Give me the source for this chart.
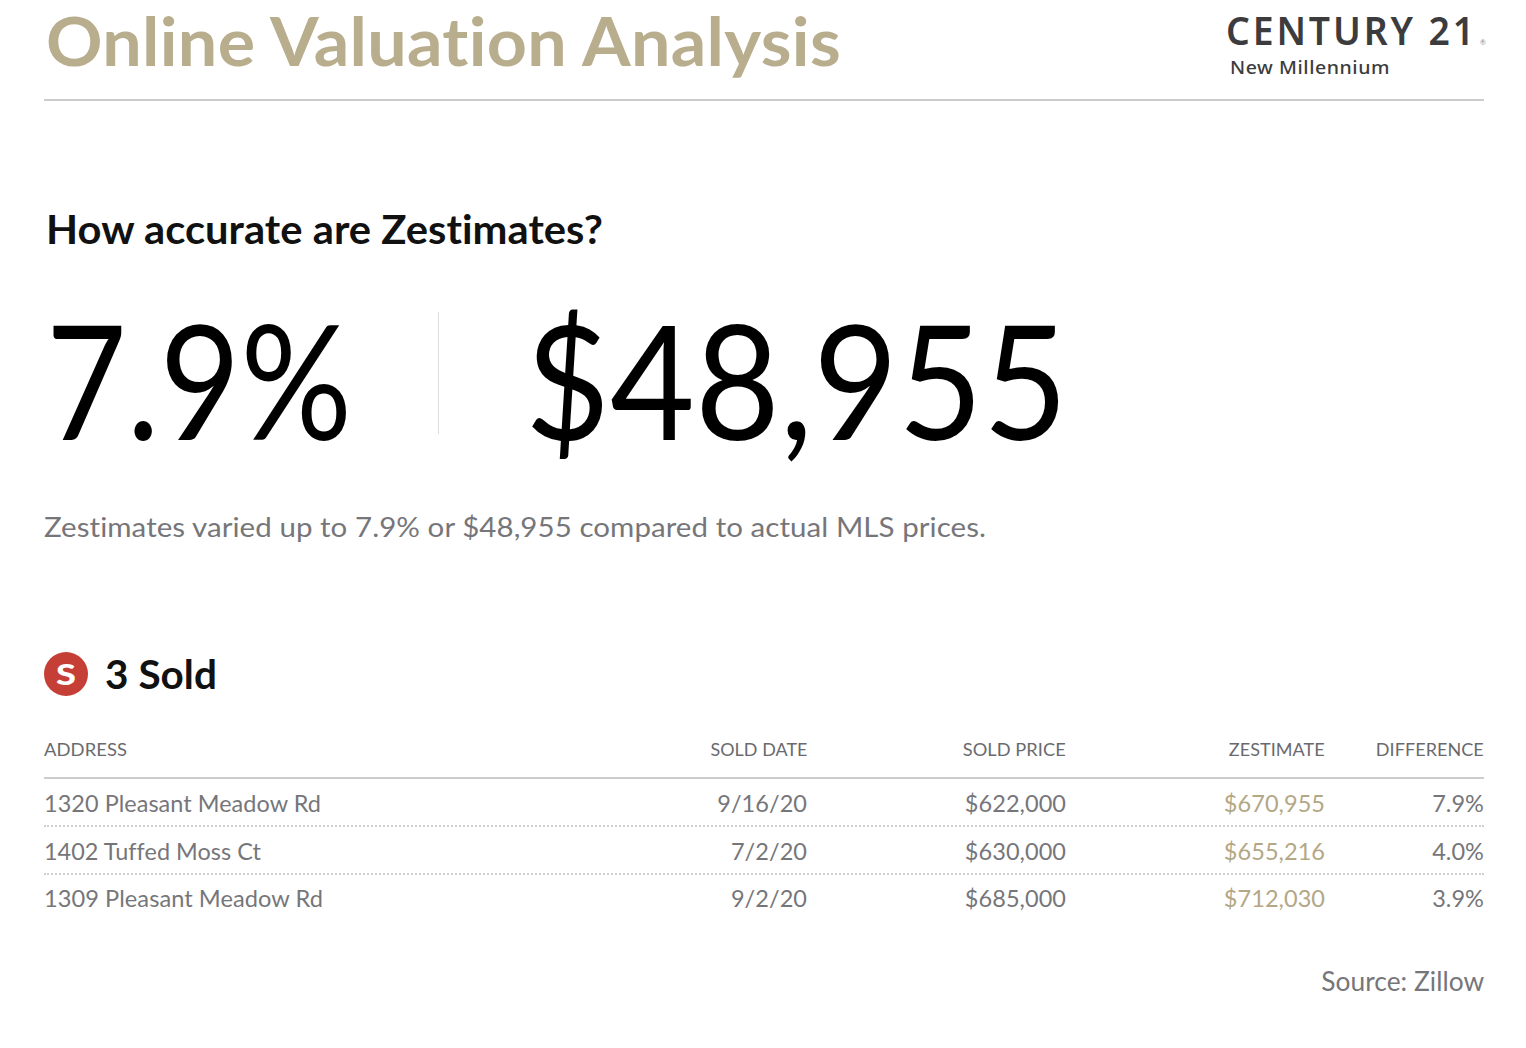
<!DOCTYPE html>
<html>
<head>
<meta charset="utf-8">
<script src="https://cdn.jsdelivr.net/npm/chart.js@4"></script>
<style>
  html, body { margin: 0; padding: 0; background: #ffffff; }
  body { width: 1526px; height: 1048px; position: relative; overflow: hidden; font-family: Lato, "Noto Sans", sans-serif; }
  .t { position: absolute; white-space: nowrap; line-height: 1; font-variant-ligatures: none; font-feature-settings: "liga" 0, "dlig" 0, "clig" 0, "calt" 0; }
  .rule { position: absolute; }
</style>
</head>
<body>
<script>
// ---------- data ----------
const pageTitle = "Online Valuation Analysis";
const brandName = "CENTURY 21";
const brandOffice = "New Millennium";
const question = "How accurate are Zestimates?";
const maxPercent = "7.9%";
const maxDollar = "$48,955";
const summary = "Zestimates varied up to 7.9% or $48,955 compared to actual MLS prices.";
const soldLabel = "3 Sold";
const columns = ["ADDRESS", "SOLD DATE", "SOLD PRICE", "ZESTIMATE", "DIFFERENCE"];
const addresses = ["1320 Pleasant Meadow Rd", "1402 Tuffed Moss Ct", "1309 Pleasant Meadow Rd"];
const soldDates = ["9/16/20", "7/2/20", "9/2/20"];
const soldPrices = [622000, 630000, 685000];
const zestimates = [670955, 655216, 712030];
const differences = [7.9, 4.0, 3.9];
const sourceNote = "Source: Zillow";

// ---------- helpers ----------
const money = v => "$" + v.toLocaleString("en-US");
function text(str, opt) {
  const d = document.createElement("div");
  d.className = "t";
  d.textContent = str;
  d.style.fontFamily = opt.family || "Lato, 'Noto Sans', sans-serif";
  d.style.fontSize = opt.size + "px";
  d.style.fontWeight = opt.weight || 400;
  d.style.color = opt.color || "#000";
  if (opt.lh) d.style.lineHeight = opt.lh;
  d.style.letterSpacing = (opt.spacing || 0.05) + "px";
  d.style.top = "0px";
  d.style.left = "0px";
  const mark = document.createElement("span");
  mark.style.cssText = "display:inline-block;width:0;height:0;vertical-align:baseline;";
  d.appendChild(mark);
  document.body.appendChild(d);
  const base = mark.getBoundingClientRect().top;
  const r = d.getBoundingClientRect();
  d.style.top = (opt.baseline - base) + "px";
  if (opt.width) {
    const s = opt.width / r.width;
    d.style.transform = "scaleX(" + s + ")";
    d.style.transformOrigin = opt.align === "right" ? "right" : "left";
  }
  if (opt.align === "right") d.style.left = (opt.x - r.width) + "px";
  else d.style.left = opt.x + "px";
  return d;
}
function rule(x, y, w, h, css) {
  const d = document.createElement("div");
  d.className = "rule";
  d.style.left = x + "px"; d.style.top = y + "px";
  d.style.width = w + "px"; d.style.height = h + "px";
  d.style.cssText += css;
  document.body.appendChild(d);
  return d;
}

const GOLD = "#b8ad8c";
const ZGOLD = "#b3a785";
const GREY = "#76767a";

// ---------- header ----------
text(pageTitle, { x: 46, baseline: 66, size: 67, weight: 700, color: GOLD, width: 795, spacing: 0.3 });
text(brandName, { x: 1226, baseline: 45, size: 39, weight: 600, color: "#3c3c3e", family: "'Noto Sans', sans-serif", spacing: 3, width: 251, lh: 0.8 });
text("®", { x: 1480, baseline: 45, size: 7, color: "#888", lh: 0.8 });
text(brandOffice, { x: 1230, baseline: 74, size: 17.5, weight: 500, color: "#3c3c3e", family: "'Noto Sans', sans-serif", spacing: 0.5, width: 160, lh: 0.9 });
rule(44, 99, 1440, 2, "background:#cccccc;");

// ---------- headline ----------
text(question, { x: 46, baseline: 244, size: 41, weight: 700, color: "#111", width: 557 });
text(maxPercent, { x: 46, baseline: 440, size: 160, weight: 400, color: "#000", width: 306 });
rule(438, 312, 1, 122, "background:#dddddd;");
text(maxDollar, { x: 525, baseline: 440, size: 160, weight: 400, color: "#000", width: 543 });
text(summary, { x: 44, baseline: 537, size: 27, weight: 400, color: GREY, width: 942 });

// ---------- sold section ----------
rule(44, 652, 44, 44, "background:#c53f36;border-radius:50%;");
text("S", { x: 56, baseline: 685, size: 28, weight: 900, color: "#fff", width: 20 });
text(soldLabel, { x: 105, baseline: 689, size: 40, weight: 700, color: "#111", width: 112 });

const colRight = [null, 807, 1066, 1325, 1484];
const headerW = [83, 97, 103, 96, 108];
columns.forEach((c, i) => {
  if (i === 0) text(c, { x: 44, baseline: 756, size: 18, color: "#6a6a6e", width: headerW[i] });
  else text(c, { x: colRight[i], baseline: 756, size: 18, color: "#6a6a6e", align: "right", width: headerW[i] });
});
rule(44, 777, 1440, 2, "background:#cccccc;");

const rowBase = [812, 860, 907];
const addrW = [277, 217, 279];
addresses.forEach((a, i) => {
  const y = rowBase[i];
  text(a, { x: 44, baseline: y, size: 23.5, color: GREY, width: addrW[i] });
  text(soldDates[i], { x: colRight[1], baseline: y, size: 23.5, color: GREY, align: "right" });
  text(money(soldPrices[i]), { x: colRight[2], baseline: y, size: 23.5, color: GREY, align: "right" });
  text(money(zestimates[i]), { x: colRight[3], baseline: y, size: 23.5, color: ZGOLD, align: "right" });
  text(differences[i].toFixed(1) + "%", { x: colRight[4], baseline: y, size: 23.5, color: GREY, align: "right" });
  if (i < addresses.length - 1) rule(44, y + 13, 1440, 0, "border-top:2px dotted #cfcfcf;");
});

text(sourceNote, { x: 1484, baseline: 991, size: 27, color: GREY, align: "right", width: 163 });
</script>
</body>
</html>
